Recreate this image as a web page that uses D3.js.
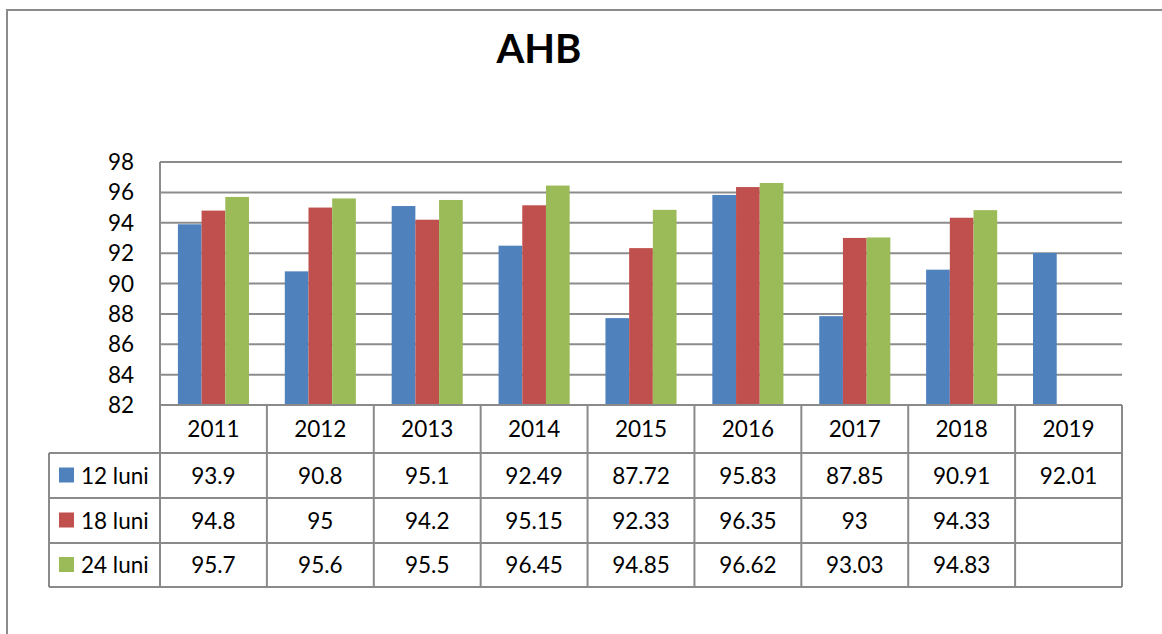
<!DOCTYPE html>
<html lang="ro">
<script src="https://d3js.org/d3.v7.min.js"></script>
<style>
    body {margin: 0; background: white;}
    text {font-family: Lato, "Open Sans", sans-serif; fill: black;}
    .grid line {stroke: #8c8c8c; stroke-width: 2;}
    .tbl line {stroke: #8a8a8a; stroke-width: 2;}
</style>
<body>
    <svg width="1162" height="634"></svg>
</body>
<script>
    var years = ["2011", "2012", "2013", "2014", "2015", "2016", "2017", "2018", "2019"];
    var seriesNames = ["12 luni", "18 luni", "24 luni"];
    var colors = ["#4f81bd", "#c0504d", "#9bbb59"];
    var luni12 = [93.9, 90.8, 95.1, 92.49, 87.72, 95.83, 87.85, 90.91, 92.01];
    var luni18 = [94.8, 95, 94.2, 95.15, 92.33, 96.35, 93, 94.33, null];
    var luni24 = [95.7, 95.6, 95.5, 96.45, 94.85, 96.62, 93.03, 94.83, null];
    var yTicks = [82, 84, 86, 88, 90, 92, 94, 96, 98];

    var values = [luni12, luni18, luni24];
    var svg = d3.select("svg");

    var plotLeft = 160, plotRight = 1122, plotTop = 162, plotBottom = 405;
    var rowY = [405, 453, 498, 543, 587];
    var legendLeft = 49;
    var fs = "22.5px";

    // outer frame
    svg.append("rect").attr("x", 7).attr("y", 10).attr("width", 1170).attr("height", 640)
        .attr("fill", "none").attr("stroke", "#8c8c8c").attr("stroke-width", 2);

    svg.append("text").attr("x", 539).attr("y", 63).attr("text-anchor", "middle")
        .attr("font-size", "40px").attr("font-weight", "bold").text("AHB");

    var y = d3.scaleLinear().domain([82, 98]).range([plotBottom, plotTop]);
    var x = d3.scaleBand().domain(years).range([plotLeft, plotRight]).paddingInner(0.335).paddingOuter(0.1675);
    var xs = d3.scaleBand().domain(d3.range(3)).range([0, x.bandwidth()]);

    var grid = svg.append("g").attr("class", "grid");
    grid.selectAll("line").data(yTicks).enter().append("line")
        .attr("x1", plotLeft).attr("x2", plotRight)
        .attr("y1", function(d){return y(d);}).attr("y2", function(d){return y(d);});
    grid.append("line").attr("x1", plotLeft).attr("x2", plotLeft).attr("y1", plotTop).attr("y2", plotBottom);

    svg.append("g").selectAll("text").data(yTicks).enter().append("text")
        .attr("x", 134).attr("y", function(d){return y(d);}).attr("dy", "0.36em")
        .attr("text-anchor", "end").attr("font-size", fs).text(function(d){return d;});

    // bars
    values.forEach(function(vals, s){
        svg.append("g").selectAll("rect").data(vals.map(function(v, i){return {year: years[i], v: v};})
            .filter(function(d){return d.v !== null;}))
            .enter().append("rect")
            .attr("x", function(d){return x(d.year) + xs(s);})
            .attr("width", xs.bandwidth())
            .attr("y", function(d){return y(d.v);})
            .attr("height", function(d){return plotBottom - y(d.v);})
            .attr("fill", colors[s]);
    });

    // data table
    var step = x.step();
    var tbl = svg.append("g").attr("class", "tbl");
    var colEdges = d3.range(years.length + 1).map(function(i){return plotLeft + i * step;});
    tbl.selectAll(".v").data(colEdges).enter().append("line")
        .attr("x1", function(d){return d;}).attr("x2", function(d){return d;})
        .attr("y1", rowY[0]).attr("y2", rowY[4]);
    tbl.append("line").attr("x1", legendLeft).attr("x2", legendLeft).attr("y1", rowY[1]).attr("y2", rowY[4]);
    tbl.selectAll(".h").data(rowY).enter().append("line")
        .attr("x1", function(d, i){return i === 0 ? plotLeft : legendLeft;}).attr("x2", plotRight)
        .attr("y1", function(d){return d;}).attr("y2", function(d){return d;});

    svg.append("g").selectAll("text").data(years).enter().append("text")
        .attr("x", function(d){return x(d) + x.bandwidth() / 2;})
        .attr("y", (rowY[0] + rowY[1]) / 2).attr("dy", "0.36em")
        .attr("text-anchor", "middle").attr("font-size", fs).text(function(d){return d;});

    values.forEach(function(vals, s){
        var cy = (rowY[s + 1] + rowY[s + 2]) / 2;
        var row = svg.append("g");
        row.append("rect").attr("x", 59).attr("y", cy - 8).attr("width", 15).attr("height", 15).attr("fill", colors[s]);
        row.append("text").attr("x", 81).attr("y", cy).attr("dy", "0.36em").attr("font-size", fs).text(seriesNames[s]);
        row.selectAll(".val").data(vals).enter().append("text")
            .attr("x", function(d, i){return x(years[i]) + x.bandwidth() / 2;})
            .attr("y", cy).attr("dy", "0.36em")
            .attr("text-anchor", "middle").attr("font-size", fs)
            .text(function(d){return d === null ? "" : d;});
    });
</script>
</html>
